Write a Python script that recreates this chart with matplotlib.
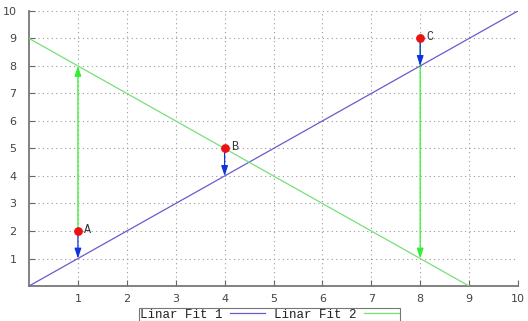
import matplotlib.pyplot as plt
import numpy as np

# puntos y rectas de ajuste
pt_x = [1, 4, 8]
pt_y = [2, 5, 9]
pt_lbl = ['A', 'B', 'C']
fit1_x = [0, 10]
fit1_y = [0, 10]
fit2_x = [0, 9]
fit2_y = [9, 0]
xticks = list(range(1, 11))
yticks = list(range(1, 11))

plt.rcParams['font.family'] = ['DejaVu Sans']

fig = plt.figure(figsize=(5.28, 3.21), dpi=100)
ax = fig.add_axes([0.055, 0.109, 0.926, 0.857])

ax.plot(fit1_x, fit1_y, color='#6a5acd', lw=0.9, label='Linar Fit 1', zorder=3)
ax.plot(fit2_x, fit2_y, color='#77e077', lw=0.9, label='Linar Fit 2', zorder=3)

# flechas verticales hacia cada recta
for x, y in zip(pt_x, pt_y):
    y1 = x
    y2 = 9 - x
    if y2 != y:
        ax.annotate('', xy=(x, y2), xytext=(x, y),
                    arrowprops=dict(arrowstyle='-|>,head_length=0.6,head_width=0.2',
                                    color='#33ee33', lw=0.9, shrinkA=0, shrinkB=0), zorder=2)
    ax.annotate('', xy=(x, y1), xytext=(x, y),
                arrowprops=dict(arrowstyle='-|>,head_length=0.6,head_width=0.2',
                                color='#1133dd', lw=0.9, shrinkA=0, shrinkB=0), zorder=4)

ax.scatter(pt_x, pt_y, s=28, color='#ee1111', zorder=5)
for x, y, t in zip(pt_x, pt_y, pt_lbl):
    ax.text(x + 0.13, y + 0.05, t, fontsize=8.5, color='#333333', va='center', ha='left',
            family='Liberation Mono', zorder=6)

ax.set_xlim(0, 10)
ax.set_ylim(0, 10)
ax.set_xticks(xticks)
ax.set_yticks(yticks)
ax.tick_params(direction='in', length=4, colors='#666666', labelsize=8, pad=6)
ax.tick_params(labelcolor='#444444')
ax.tick_params(axis='y', pad=9)
ax.grid(True, ls=(0, (1, 3)), color='#999999', lw=0.8)
for s in ['top', 'right']:
    ax.spines[s].set_visible(False)
for s in ['left', 'bottom']:
    ax.spines[s].set_color('#777777')
    ax.spines[s].set_linewidth(1.3)

leg = fig.legend(loc='upper center', bbox_to_anchor=(0.5104, 0.0405), ncol=2, frameon=True,
                 fancybox=False, prop={'family': 'Liberation Mono', 'size': 9},
                 handlelength=2.8, columnspacing=0.65, borderpad=0.05,
                 handletextpad=0.65, markerfirst=False, edgecolor='#555555', borderaxespad=0)
leg.get_frame().set_linewidth(0.8)
for t in leg.get_texts():
    t.set_color('#222222')

fig.savefig('out.png', dpi=100)
